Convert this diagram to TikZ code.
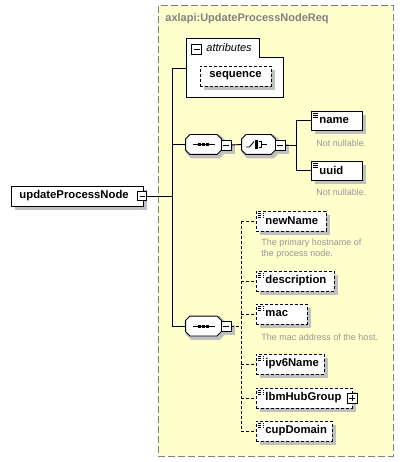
\documentclass[tikz,border=0pt]{standalone}
\usepackage{fontspec}
\setmainfont{Liberation Sans}
\usetikzlibrary{calc}
\definecolor{ylw}{RGB}{255,255,204}
\definecolor{shcol}{RGB}{192,192,192}
\definecolor{brd}{RGB}{128,128,128}
\definecolor{dsc}{RGB}{150,150,150}
\newcommand\elfont{\fontsize{11.3}{13}\selectfont\bfseries}
\newcommand\dsfont{\fontsize{9}{11}\selectfont}
\tikzset{
  elem/.style={draw=black, fill=white, minimum height=20pt, inner xsep=0pt, inner ysep=0pt,
    text width=#1, align=left, anchor=west, font=\elfont,
    path picture={
      \foreach \yy in {2,4,6}{\draw[line width=0.7pt] ([shift={(1.5pt,-\yy pt)}]path picture bounding box.north west) -- ++(5.5pt,0pt);}
    }},
  optelem/.style={elem=#1, dash pattern=on 3pt off 2pt},
  pmbox/.style={draw=black, fill=white, minimum size=10pt, inner sep=0pt,
    path picture={\draw ([xshift=2pt]path picture bounding box.west) -- ([xshift=-2pt]path picture bounding box.east);}},
  plusbox/.style={draw=black, fill=white, minimum size=10pt, inner sep=0pt,
    path picture={\draw ([xshift=2pt]path picture bounding box.west) -- ([xshift=-2pt]path picture bounding box.east);
                  \draw ([yshift=2pt]path picture bounding box.south) -- ([yshift=-2pt]path picture bounding box.north);}},
  compo/.style={minimum width=35pt, minimum height=19pt, inner sep=0pt, draw=none},
  desc/.style={anchor=west, font=\dsfont, text=dsc, inner sep=0pt, align=left},
  dsh/.style={dash pattern=on 3pt off 2pt},
  shstroke/.style={draw=shcol, line width=4pt, line cap=butt},
}
% shadow strips of a box: x1,y1,x2,y2 of the box
\newcommand\shbox[4]{%
  \draw[shstroke] (#3+2,#2+4) -- (#3+2,#4+4);
  \draw[shstroke] (#1+4,#4+2) -- (#3+4,#4+2);}
\newcommand\octapath[3]{%
    ($(#1.north west)+(4.5+#2,#3)$) -- ($(#1.north east)+(-4.5+#2,#3)$) -- ($(#1.north east)+(#2,4.5+#3)$)
    -- ($(#1.south east)+(#2,-4.5+#3)$) -- ($(#1.south east)+(-4.5+#2,#3)$) -- ($(#1.south west)+(4.5+#2,#3)$)
    -- ($(#1.south west)+(#2,-4.5+#3)$) -- ($(#1.north west)+(#2,4.5+#3)$) -- cycle}
\newcommand\octa[1]{%
  \draw[shstroke, line join=miter] \octapath{#1}{2}{2};
  \path[draw=black, fill=white] \octapath{#1}{0}{0};}
\newcommand\seqicon[1]{%
  \draw ($(#1.center)+(-11,0)$) -- ($(#1.center)+(11,0)$);
  \foreach \dx in {-4,0,4}{\fill ($(#1.center)+(\dx-1.5,-1.5)$) rectangle ($(#1.center)+(\dx+1.5,1.5)$);}}
\newcommand\choiceicon[1]{%
  \draw ($(#1.center)+(-12.5,2.5)$) -- ($(#1.center)+(-9,2.5)$) -- ($(#1.center)+(-4.5,-3)$);
  \foreach \dy in {-3,0,3}{\fill ($(#1.center)+(-3.3,\dy-1.1)$) rectangle ($(#1.center)+(-1,\dy+1.1)$);}
  \draw ($(#1.center)+(0.5,-3)$) -- ($(#1.center)+(3,-3)$) -- ($(#1.center)+(3,3)$) -- ($(#1.center)+(0.5,3)$);
  \draw ($(#1.center)+(3,0)$) -- ($(#1.center)+(8,0)$);}
\begin{document}
\begin{tikzpicture}[x=1pt,y=-1pt,line width=0.9pt]
\useasboundingbox (0,0) rectangle (404,462);
% type frame
\draw[brd, fill=ylw, line width=1pt, dash pattern=on 7pt off 3pt] (158,6) rectangle (393,456);
\node[anchor=west, text=brd, font=\fontsize{11}{13}\selectfont\bfseries, inner sep=0pt] (title) at (165,19) {axlapi:UpdateProcessNodeReq};

% shadows of the element boxes (drawn first, below everything)
\shbox{11}{186}{143}{206}
\shbox{311}{111}{362}{130}
\shbox{311}{161}{362}{180}
\shbox{221}{140}{231}{150}
\shbox{275}{140}{285}{150}
\shbox{221}{321}{231}{331}
\shbox{256}{211}{326}{231}
\shbox{256}{271}{334}{291}
\shbox{256}{304}{307}{324}
\shbox{256}{354}{324}{374}
\shbox{256}{388}{352}{408}
\shbox{256}{421}{332}{441}

% root
\node[elem=132pt, path picture={}] (root) at (11,196) {\hspace*{8pt}updateProcessNode};
\node[pmbox, minimum size=9pt] (rootm) at (142,196) {};

% attributes panel
\draw[fill=white] (186,38) -- (259,38) -- (259,57) -- (283,57) -- (283,97) -- (186,97) -- cycle;
\node[pmbox] (attm) at (196.5,49) {};
\node[anchor=west, font=\fontsize{11}{13}\selectfont\itshape, inner sep=0pt] (attl) at (206,48) {attributes};
\shbox{200}{66}{271}{86}
\node[draw=black, fill=white, dsh, minimum width=71pt, minimum height=20pt, inner sep=0pt, font=\elfont] (sequence) at (235.5,76) {sequence};
\coordinate (attL) at (186,68);

% spine
\coordinate (spT) at (172,68);
\coordinate (spB) at (172,326);
\draw (rootm.east) -- (rootm.east -| spT);
\draw (spT) -- (spB);
\draw (spT) -- (attL);

% first sequence + choice
\node[compo] (seq1) at (203.5,144.5) {};
\octa{seq1}\seqicon{seq1}
\node[pmbox] (seq1m) at (226,145) {};
\node[compo, minimum width=33pt] (ch) at (258.5,144.5) {};
\octa{ch}\choiceicon{ch}
\node[pmbox] (chm) at (280,145) {};
\draw (seq1.west -| spT) -- (seq1.west);
\draw (seq1m.east) -- (ch.west);
\coordinate (cv) at (296,145);
\draw (chm.east) -- (cv);

\node[elem=51pt, minimum height=19pt] (name) at (311,120.5) {\hspace*{8pt}name};
\node[elem=51pt, minimum height=19pt] (uuid) at (311,170.5) {\hspace*{8pt}uuid};
\draw (name.west) -| (cv);
\draw (uuid.west) -| (cv);
\node[desc] (d1) at (316,143) {Not nullable.};
\node[desc] (d2) at (316,192) {Not nullable.};

% second sequence
\node[compo] (seq2) at (203.5,326) {};
\octa{seq2}\seqicon{seq2}
\node[pmbox] (seq2m) at (226,326) {};
\draw (spB) -- (seq2.west);
\coordinate (dv) at (241,326);
\draw[dsh] (seq2m.east) -- (dv);

\node[optelem=70pt] (newName) at (256,221) {\hspace*{9pt}newName};
\node[desc] (d3) at (261,248.5) {The primary hostname of\\the process node.};
\node[optelem=78pt] (description) at (256,281) {\hspace*{9pt}description};
\node[optelem=51pt] (mac) at (256,314) {\hspace*{9pt}mac};
\node[desc] (d4) at (261,337) {The mac address of the host.};
\node[optelem=68pt] (ipv6Name) at (256,364) {\hspace*{9pt}ipv6Name};
\node[optelem=96pt] (lbmHubGroup) at (256,398) {\hspace*{9pt}lbmHubGroup};
\node[plusbox] (lbmp) at (352,398) {};
\node[optelem=76pt] (cupDomain) at (256,431) {\hspace*{9pt}cupDomain};

\draw[dsh] (newName.west -| dv) -- (cupDomain.west -| dv);
\foreach \n in {newName,description,mac,ipv6Name,lbmHubGroup,cupDomain}{
  \draw[dsh] (\n.west -| dv) -- (\n.west);
}
\end{tikzpicture}
\end{document}
